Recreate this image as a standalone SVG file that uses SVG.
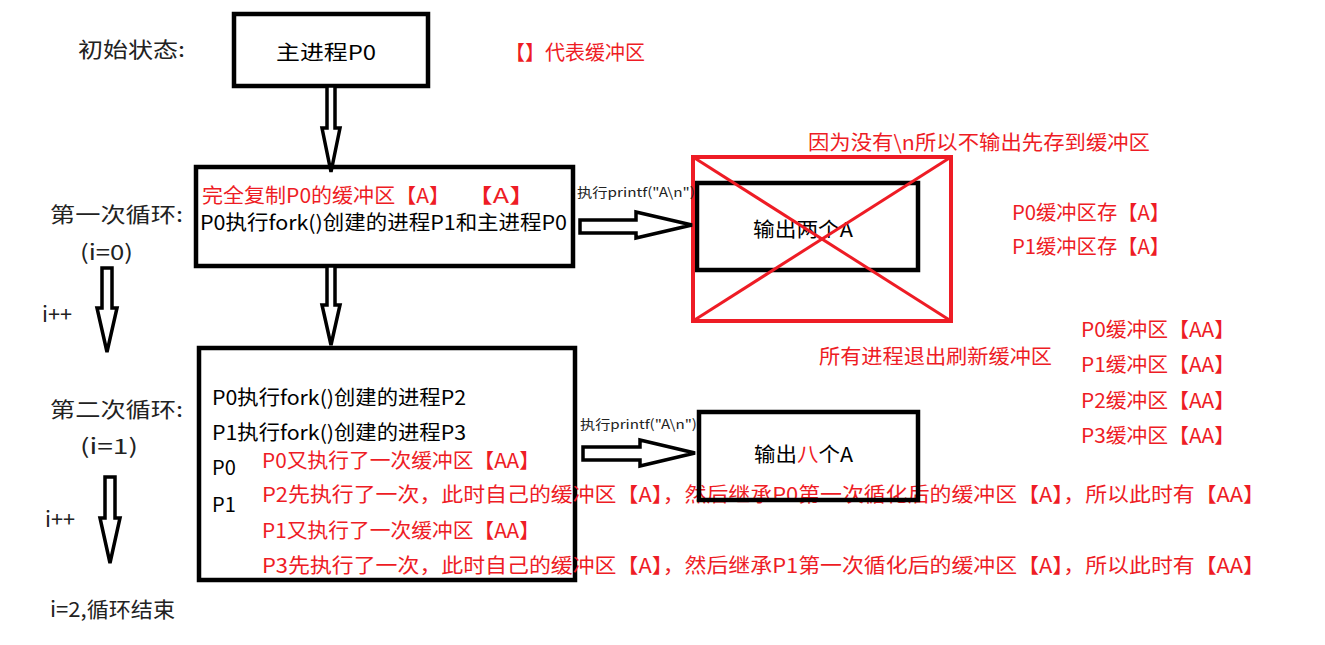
<svg xmlns="http://www.w3.org/2000/svg" width="1325" height="645" viewBox="0 0 1325 645">
<style>
text{font-family:"Microsoft YaHei","Noto Sans CJK SC","Noto Sans",sans-serif;}
.t{font-size:20px;fill:#000;}
.lab{font-size:21px;fill:#222;}
.r{font-size:20px;fill:#ee1c25;}
.s{font-size:13px;fill:#222;}
.box{fill:none;stroke:#000;stroke-width:4.5;}
.arr{fill:#fff;stroke:#000;stroke-width:3.5;stroke-linejoin:miter;}
.red{fill:none;stroke:#ee1c25;stroke-width:4;}
</style>
<rect width="1325" height="645" fill="#fff"/>

<g id="labels">
<text class="lab" x="78" y="57" textLength="107" lengthAdjust="spacingAndGlyphs">初始状态:</text>
<text class="r" x="505" y="60" textLength="140" lengthAdjust="spacingAndGlyphs">【】代表缓冲区</text>
<text class="lab" x="50" y="222" textLength="133" lengthAdjust="spacingAndGlyphs">第一次循环:</text>
<text class="lab" x="80" y="260" textLength="53" lengthAdjust="spacingAndGlyphs">(i=0)</text>
<text class="lab" x="42" y="322" font-size="18" textLength="30" lengthAdjust="spacingAndGlyphs">i++</text>
<text class="lab" x="50" y="417" textLength="133" lengthAdjust="spacingAndGlyphs">第二次循环:</text>
<text class="lab" x="80" y="454" textLength="58" lengthAdjust="spacingAndGlyphs">(i=1)</text>
<text class="lab" x="45" y="527" font-size="18" textLength="30" lengthAdjust="spacingAndGlyphs">i++</text>
<text class="lab" x="50" y="617" font-size="19" textLength="125" lengthAdjust="spacingAndGlyphs">i=2,循环结束</text>
<text class="r" x="808" y="150" textLength="342" lengthAdjust="spacingAndGlyphs">因为没有\n所以不输出先存到缓冲区</text>
<text class="r" x="1012" y="220" textLength="158" lengthAdjust="spacingAndGlyphs">P0缓冲区存【A】</text>
<text class="r" x="1012" y="254" textLength="158" lengthAdjust="spacingAndGlyphs">P1缓冲区存【A】</text>
<text class="r" x="819" y="364" textLength="233" lengthAdjust="spacingAndGlyphs">所有进程退出刷新缓冲区</text>
<text class="r" x="1081" y="337" textLength="154" lengthAdjust="spacingAndGlyphs">P0缓冲区【AA】</text>
<text class="r" x="1081" y="372" textLength="154" lengthAdjust="spacingAndGlyphs">P1缓冲区【AA】</text>
<text class="r" x="1081" y="408" textLength="154" lengthAdjust="spacingAndGlyphs">P2缓冲区【AA】</text>
<text class="r" x="1081" y="443" textLength="154" lengthAdjust="spacingAndGlyphs">P3缓冲区【AA】</text>
</g>

<g id="node-p0">
<rect class="box" x="234" y="14" width="194" height="72"/>
<text class="t" x="276" y="60" textLength="100" lengthAdjust="spacingAndGlyphs">主进程P0</text>
</g>

<g id="node-loop1">
<rect class="box" x="196" y="167" width="377" height="99"/>
<text class="r" x="202" y="203" textLength="248" lengthAdjust="spacingAndGlyphs">完全复制P0的缓冲区【A】</text>
<text class="r" x="466" y="203" textLength="70" lengthAdjust="spacingAndGlyphs">【A】</text>
<text class="t" x="200" y="230" textLength="367" lengthAdjust="spacingAndGlyphs">P0执行fork()创建的进程P1和主进程P0</text>
</g>

<g id="node-out1">
<rect class="box" x="697" y="183" width="221" height="87"/>
<text class="t" x="753" y="237" textLength="100" lengthAdjust="spacingAndGlyphs">输出两个A</text>
<rect class="red" x="693" y="157" width="258" height="164"/>
<line x1="693" y1="157" x2="951" y2="321" stroke="#ee1c25" stroke-width="3"/>
<line x1="951" y1="157" x2="693" y2="321" stroke="#ee1c25" stroke-width="3"/>
</g>

<g id="node-loop2">
<rect class="box" x="199" y="348" width="376" height="232"/>
<text class="t" x="212" y="405" textLength="254" lengthAdjust="spacingAndGlyphs">P0执行fork()创建的进程P2</text>
<text class="t" x="212" y="440" textLength="254" lengthAdjust="spacingAndGlyphs">P1执行fork()创建的进程P3</text>
<text class="t" x="212" y="475">P0</text>
<text class="t" x="212" y="512">P1</text>
<text class="r" x="262" y="468" textLength="278" lengthAdjust="spacingAndGlyphs">P0又执行了一次缓冲区【AA】</text>
<text class="r" x="262" y="502" textLength="1003" lengthAdjust="spacingAndGlyphs">P2先执行了一次，此时自己的缓冲区【A】，然后继承P0第一次循化后的缓冲区【A】，所以此时有【AA】</text>
<text class="r" x="262" y="538" textLength="278" lengthAdjust="spacingAndGlyphs">P1又执行了一次缓冲区【AA】</text>
<text class="r" x="262" y="573" textLength="1003" lengthAdjust="spacingAndGlyphs">P3先执行了一次，此时自己的缓冲区【A】，然后继承P1第一次循化后的缓冲区【A】，所以此时有【AA】</text>
</g>

<g id="node-out2">
<rect class="box" x="699" y="412" width="219" height="88"/>
<text class="t" x="754" y="462" textLength="99" lengthAdjust="spacingAndGlyphs">输出<tspan fill="#ee1c25">八</tspan>个A</text>
</g>

<g id="connectors">
<polygon class="arr" points="327,86 335,86 335,128 340,128 331,172 322,128 327,128"/>
<polygon class="arr" points="327,266 335,266 335,305 340,305 331,345 322,305 327,305"/>
<polygon class="arr" points="102,268 112,268 112,308 117,308 107,352 97,308 102,308"/>
<polygon class="arr" points="105,477 115,477 115,518 120,518 110,563 100,518 105,518"/>
<polygon class="arr" points="580,220 636,220 636,212 692,225 636,238 636,233 580,233"/>
<polygon class="arr" points="583,447 640,447 640,440 695,453 640,466 640,460 583,460"/>
<text class="s" x="577" y="197" textLength="118" lengthAdjust="spacingAndGlyphs">执行printf("A\n")</text>
<text class="s" x="580" y="429" textLength="117" lengthAdjust="spacingAndGlyphs">执行printf("A\n")</text>
</g>
</svg>
